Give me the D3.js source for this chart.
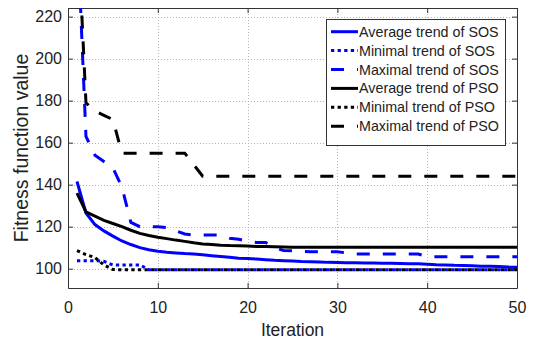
<!DOCTYPE html>
<html>
<head>
<meta charset="utf-8">
<script src="https://cdn.jsdelivr.net/npm/d3@7"></script>
<style>
  body { margin: 0; background: #fff; }
  text { font-family: "Liberation Sans", Arial, sans-serif; fill: #222; }
</style>
</head>
<body>
<svg id="chart" width="533" height="340"></svg>
<script>
// iterations 1..50
const iterations = d3.range(1, 51);

const sosAvg = [141.5, 126.5, 121, 118, 115.5, 113.2, 111.5, 110, 109, 108.3,
  107.8, 107.5, 107.2, 107, 106.6, 106.2, 105.8, 105.4, 105, 104.8,
  104.6, 104.3, 104, 103.8, 103.6, 103.4, 103.3, 103.2, 103, 102.9,
  102.8, 102.8, 102.7, 102.7, 102.6, 102.6, 102.5, 102.4, 102.3, 102.1,
  101.9, 101.8, 101.6, 101.5, 101.4, 101.2, 101.1, 101, 100.8, 100.7];
const sosMin = [103.8, 103.8, 103.8, 103.5, 101.8, 101.8, 101.8, 101.8, 99.5, 99.5,
  99.5, 99.5, 99.5, 99.5, 99.5, 99.5, 99.5, 99.5, 99.5, 99.5,
  99.5, 99.5, 99.5, 99.5, 99.5, 99.5, 99.5, 99.5, 99.5, 99.5,
  99.5, 99.5, 99.5, 99.5, 99.5, 99.5, 99.5, 99.5, 99.5, 99.5,
  99.5, 99.5, 99.5, 99.5, 99.5, 99.5, 99.5, 99.5, 99.5, 99.5];
const sosMax = [265, 163, 154, 151, 148, 139, 122, 120, 120, 120,
  119.5, 118, 116.5, 116, 116, 116, 116, 114.5, 114, 113,
  112.5, 112.5, 110, 108.7, 108.5, 108.3, 108.1, 108, 108, 108,
  107.5, 107, 107, 107, 107, 107, 107, 107, 107, 105.7,
  105.7, 105.7, 105.7, 105.7, 105.7, 105.7, 105.7, 105.7, 105.7, 105.7];
const psoAvg = [136, 127, 125, 123, 121.5, 120, 118.3, 116.8, 115.8, 115,
  114.3, 113.6, 113, 112.3, 111.8, 111.5, 111.2, 111, 110.9, 110.8,
  110.6, 110.5, 110.4, 110.3, 110.2, 110.2, 110.2, 110.2, 110.2, 110.2,
  110.2, 110.2, 110.2, 110.2, 110.2, 110.2, 110.2, 110.2, 110.2, 110.2,
  110.2, 110.2, 110.2, 110.2, 110.2, 110.2, 110.2, 110.2, 110.2, 110.2];
const psoMin = [108.6, 106.7, 105.3, 101.8, 99.6, 99.5, 99.5, 99.5, 99.5, 99.5,
  99.5, 99.5, 99.5, 99.5, 99.5, 99.5, 99.5, 99.5, 99.5, 99.5,
  99.5, 99.5, 99.5, 99.5, 99.5, 99.5, 99.5, 99.5, 99.5, 99.5,
  99.5, 99.5, 99.5, 99.5, 99.5, 99.5, 99.5, 99.5, 99.5, 99.5,
  99.5, 99.5, 99.5, 99.5, 99.5, 99.5, 99.5, 99.5, 99.5, 99.5];
const psoMax = [270, 179, 175, 173, 171, 155, 155, 155, 155, 155,
  155, 155, 155, 149.5, 144, 144, 144, 144, 144, 144,
  144, 144, 144, 144, 144, 144, 144, 144, 144, 144,
  144, 144, 144, 144, 144, 144, 144, 144, 144, 144,
  144, 144, 144, 144, 144, 144, 144, 144, 144, 144];

const seriesNames = ["Average trend of SOS", "Minimal trend of SOS", "Maximal trend of SOS",
  "Average trend of PSO", "Minimal trend of PSO", "Maximal trend of PSO"];
const xTicks = [0, 10, 20, 30, 40, 50];
const yTicks = [100, 120, 140, 160, 180, 200, 220];

const series = [
  { name: seriesNames[0], values: sosAvg, color: "#0000ff", dash: null },
  { name: seriesNames[1], values: sosMin, color: "#0000ff", dash: "3.3,3.3" },
  { name: seriesNames[2], values: sosMax, color: "#0000ff", dash: "13,13" },
  { name: seriesNames[3], values: psoAvg, color: "#000000", dash: null },
  { name: seriesNames[4], values: psoMin, color: "#000000", dash: "3.3,3.3" },
  { name: seriesNames[5], values: psoMax, color: "#000000", dash: "13,13" }
];

const mLeft = 68, mRight = 517, mTop = 8, mBottom = 288;
const svg = d3.select("#chart");

const x = d3.scaleLinear().domain([0, 50]).range([mLeft, mRight]);
const y = d3.scaleLinear().domain([90.8, 224.1]).range([mBottom, mTop]);

svg.append("defs").append("clipPath").attr("id", "clip")
  .append("rect").attr("x", mLeft).attr("y", mTop)
  .attr("width", mRight - mLeft).attr("height", mBottom - mTop);

// grid
const grid = svg.append("g").attr("stroke", "#b4b4b4").attr("stroke-width", 1)
  .attr("stroke-dasharray", "1,2");
xTicks.slice(1, -1).forEach(t => {
  grid.append("line").attr("x1", Math.round(x(t)) + 0.5).attr("x2", Math.round(x(t)) + 0.5)
    .attr("y1", mTop).attr("y2", mBottom);
});
yTicks.forEach(t => {
  grid.append("line").attr("y1", Math.round(y(t)) + 0.5).attr("y2", Math.round(y(t)) + 0.5)
    .attr("x1", mLeft).attr("x2", mRight);
});

// axes
const xAxis = d3.axisBottom(x).tickValues(xTicks).tickSizeInner(-5).tickSizeOuter(0).tickPadding(14);
const yAxis = d3.axisLeft(y).tickValues(yTicks).tickSizeInner(-5).tickSizeOuter(0).tickPadding(6);

svg.append("g").attr("transform", `translate(0,${mBottom})`).call(xAxis);
svg.append("g").attr("transform", `translate(${mLeft},0)`).call(yAxis);
svg.append("g").attr("transform", `translate(0,${mTop})`)
  .call(d3.axisTop(x).tickValues(xTicks).tickSizeInner(-5).tickSizeOuter(0).tickFormat(""));
svg.append("g").attr("transform", `translate(${mRight},0)`)
  .call(d3.axisRight(y).tickValues(yTicks).tickSizeInner(-5).tickSizeOuter(0).tickFormat(""));

svg.selectAll(".domain").attr("stroke", "#333");
svg.selectAll(".tick line").attr("stroke", "#333");
svg.selectAll(".tick text").style("font-size", "16px").attr("fill", "#222");

// lines
const line = d3.line()
  .x((d, i) => x(iterations[i]))
  .y(d => y(d));

const plot = svg.append("g").attr("clip-path", "url(#clip)");
series.forEach(s => {
  plot.append("path")
    .datum(s.values)
    .attr("d", line)
    .attr("fill", "none")
    .attr("stroke", s.color)
    .attr("stroke-width", 3)
    .attr("stroke-dasharray", s.dash);
});

// axis labels
svg.append("text")
  .attr("x", (mLeft + mRight) / 2).attr("y", 336)
  .attr("text-anchor", "middle")
  .style("font-size", "17.5px")
  .text("Iteration");

svg.append("text")
  .attr("transform", `translate(28,${(mTop + mBottom) / 2}) rotate(-90)`)
  .attr("text-anchor", "middle")
  .style("font-size", "19.5px")
  .text("Fitness function value");

// legend
const lg = svg.append("g");
lg.append("rect").attr("x", 326.5).attr("y", 19.5).attr("width", 179).attr("height", 126)
  .attr("fill", "#fff").attr("stroke", "#333").attr("stroke-width", 1);
series.forEach((s, i) => {
  const cy = 31.7 + i * 18.9;
  lg.append("line")
    .attr("x1", 331).attr("x2", 358).attr("y1", cy).attr("y2", cy)
    .attr("stroke", s.color).attr("stroke-width", 3)
    .attr("stroke-dasharray", s.dash);
  lg.append("text")
    .attr("x", 359).attr("y", cy).attr("dy", "0.35em")
    .style("font-size", "14.3px")
    .text(s.name);
});
</script>
</body>
</html>
